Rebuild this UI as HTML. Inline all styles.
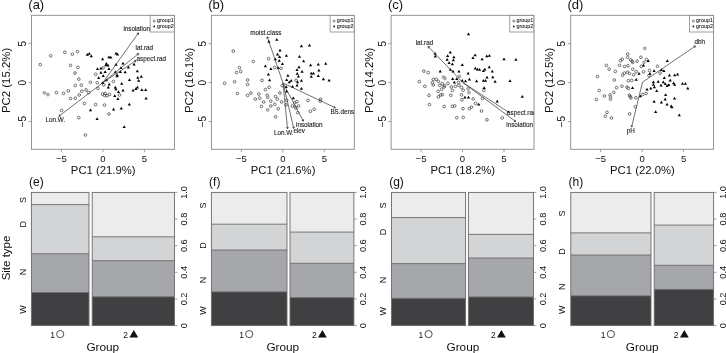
<!DOCTYPE html>
<html><head><meta charset="utf-8"><style>
html,body{margin:0;padding:0;background:#fff;}
svg{display:block;font-family:"Liberation Sans", sans-serif;will-change:transform;}
</style></head><body>
<svg width="726" height="353" viewBox="0 0 726 353">
<defs><clipPath id="cp0"><rect x="31.50" y="15.3" width="142.90" height="134.00"/></clipPath><clipPath id="cp1"><rect x="211.40" y="15.3" width="142.90" height="134.00"/></clipPath><clipPath id="cp2"><rect x="391.10" y="15.3" width="142.90" height="134.00"/></clipPath><clipPath id="cp3"><rect x="570.70" y="15.3" width="142.90" height="134.00"/></clipPath></defs>
<rect width="726" height="353" fill="#fff"/>
<rect x="31.50" y="15.3" width="142.90" height="134.00" fill="none" stroke="#888888" stroke-width="0.9"/>
<line x1="61.40" y1="149.3" x2="61.40" y2="152.20" stroke="#888888" stroke-width="0.8"/>
<text x="61.40" y="161.70" font-size="9.5" text-anchor="middle" fill="#111">&#8722;5</text>
<line x1="102.90" y1="149.3" x2="102.90" y2="152.20" stroke="#888888" stroke-width="0.8"/>
<text x="102.90" y="161.70" font-size="9.5" text-anchor="middle" fill="#111">0</text>
<line x1="144.40" y1="149.3" x2="144.40" y2="152.20" stroke="#888888" stroke-width="0.8"/>
<text x="144.40" y="161.70" font-size="9.5" text-anchor="middle" fill="#111">5</text>
<line x1="28.60" y1="121.60" x2="31.50" y2="121.60" stroke="#888888" stroke-width="0.8"/>
<text x="26.00" y="121.60" font-size="10" text-anchor="middle" fill="#111" transform="rotate(-90 26.00 121.60)">&#8722;5</text>
<line x1="28.60" y1="82.60" x2="31.50" y2="82.60" stroke="#888888" stroke-width="0.8"/>
<text x="26.00" y="82.60" font-size="10" text-anchor="middle" fill="#111" transform="rotate(-90 26.00 82.60)">0</text>
<line x1="28.60" y1="43.60" x2="31.50" y2="43.60" stroke="#888888" stroke-width="0.8"/>
<text x="26.00" y="43.60" font-size="10" text-anchor="middle" fill="#111" transform="rotate(-90 26.00 43.60)">5</text>
<text x="103.20" y="173.80" font-size="11.3" text-anchor="middle" fill="#111">PC1 (21.9%)</text>
<text x="10.20" y="80.40" font-size="11.4" text-anchor="middle" fill="#111" transform="rotate(-90 10.20 80.40)">PC2 (15.2%)</text>
<text x="28.30" y="9.30" font-size="13" text-anchor="start" fill="#111">(a)</text>
<rect x="211.40" y="15.3" width="142.90" height="134.00" fill="none" stroke="#888888" stroke-width="0.9"/>
<line x1="241.30" y1="149.3" x2="241.30" y2="152.20" stroke="#888888" stroke-width="0.8"/>
<text x="241.30" y="161.70" font-size="9.5" text-anchor="middle" fill="#111">&#8722;5</text>
<line x1="282.80" y1="149.3" x2="282.80" y2="152.20" stroke="#888888" stroke-width="0.8"/>
<text x="282.80" y="161.70" font-size="9.5" text-anchor="middle" fill="#111">0</text>
<line x1="324.30" y1="149.3" x2="324.30" y2="152.20" stroke="#888888" stroke-width="0.8"/>
<text x="324.30" y="161.70" font-size="9.5" text-anchor="middle" fill="#111">5</text>
<line x1="208.50" y1="121.60" x2="211.40" y2="121.60" stroke="#888888" stroke-width="0.8"/>
<text x="205.90" y="121.60" font-size="10" text-anchor="middle" fill="#111" transform="rotate(-90 205.90 121.60)">&#8722;5</text>
<line x1="208.50" y1="82.60" x2="211.40" y2="82.60" stroke="#888888" stroke-width="0.8"/>
<text x="205.90" y="82.60" font-size="10" text-anchor="middle" fill="#111" transform="rotate(-90 205.90 82.60)">0</text>
<line x1="208.50" y1="43.60" x2="211.40" y2="43.60" stroke="#888888" stroke-width="0.8"/>
<text x="205.90" y="43.60" font-size="10" text-anchor="middle" fill="#111" transform="rotate(-90 205.90 43.60)">5</text>
<text x="283.10" y="173.80" font-size="11.3" text-anchor="middle" fill="#111">PC1 (21.6%)</text>
<text x="193.30" y="80.40" font-size="11.4" text-anchor="middle" fill="#111" transform="rotate(-90 193.30 80.40)">PC2 (16.1%)</text>
<text x="208.20" y="9.30" font-size="13" text-anchor="start" fill="#111">(b)</text>
<rect x="391.10" y="15.3" width="142.90" height="134.00" fill="none" stroke="#888888" stroke-width="0.9"/>
<line x1="421.00" y1="149.3" x2="421.00" y2="152.20" stroke="#888888" stroke-width="0.8"/>
<text x="421.00" y="161.70" font-size="9.5" text-anchor="middle" fill="#111">&#8722;5</text>
<line x1="462.50" y1="149.3" x2="462.50" y2="152.20" stroke="#888888" stroke-width="0.8"/>
<text x="462.50" y="161.70" font-size="9.5" text-anchor="middle" fill="#111">0</text>
<line x1="504.00" y1="149.3" x2="504.00" y2="152.20" stroke="#888888" stroke-width="0.8"/>
<text x="504.00" y="161.70" font-size="9.5" text-anchor="middle" fill="#111">5</text>
<line x1="388.20" y1="121.60" x2="391.10" y2="121.60" stroke="#888888" stroke-width="0.8"/>
<text x="385.60" y="121.60" font-size="10" text-anchor="middle" fill="#111" transform="rotate(-90 385.60 121.60)">&#8722;5</text>
<line x1="388.20" y1="82.60" x2="391.10" y2="82.60" stroke="#888888" stroke-width="0.8"/>
<text x="385.60" y="82.60" font-size="10" text-anchor="middle" fill="#111" transform="rotate(-90 385.60 82.60)">0</text>
<line x1="388.20" y1="43.60" x2="391.10" y2="43.60" stroke="#888888" stroke-width="0.8"/>
<text x="385.60" y="43.60" font-size="10" text-anchor="middle" fill="#111" transform="rotate(-90 385.60 43.60)">5</text>
<text x="462.80" y="173.80" font-size="11.3" text-anchor="middle" fill="#111">PC1 (18.2%)</text>
<text x="373.00" y="80.40" font-size="11.4" text-anchor="middle" fill="#111" transform="rotate(-90 373.00 80.40)">PC2 (14.2%)</text>
<text x="387.90" y="9.30" font-size="13" text-anchor="start" fill="#111">(c)</text>
<rect x="570.70" y="15.3" width="142.90" height="134.00" fill="none" stroke="#888888" stroke-width="0.9"/>
<line x1="600.60" y1="149.3" x2="600.60" y2="152.20" stroke="#888888" stroke-width="0.8"/>
<text x="600.60" y="161.70" font-size="9.5" text-anchor="middle" fill="#111">&#8722;5</text>
<line x1="642.10" y1="149.3" x2="642.10" y2="152.20" stroke="#888888" stroke-width="0.8"/>
<text x="642.10" y="161.70" font-size="9.5" text-anchor="middle" fill="#111">0</text>
<line x1="683.60" y1="149.3" x2="683.60" y2="152.20" stroke="#888888" stroke-width="0.8"/>
<text x="683.60" y="161.70" font-size="9.5" text-anchor="middle" fill="#111">5</text>
<line x1="567.80" y1="121.60" x2="570.70" y2="121.60" stroke="#888888" stroke-width="0.8"/>
<text x="565.20" y="121.60" font-size="10" text-anchor="middle" fill="#111" transform="rotate(-90 565.20 121.60)">&#8722;5</text>
<line x1="567.80" y1="82.60" x2="570.70" y2="82.60" stroke="#888888" stroke-width="0.8"/>
<text x="565.20" y="82.60" font-size="10" text-anchor="middle" fill="#111" transform="rotate(-90 565.20 82.60)">0</text>
<line x1="567.80" y1="43.60" x2="570.70" y2="43.60" stroke="#888888" stroke-width="0.8"/>
<text x="565.20" y="43.60" font-size="10" text-anchor="middle" fill="#111" transform="rotate(-90 565.20 43.60)">5</text>
<text x="642.40" y="173.80" font-size="11.3" text-anchor="middle" fill="#111">PC1 (22.0%)</text>
<text x="552.60" y="80.40" font-size="11.4" text-anchor="middle" fill="#111" transform="rotate(-90 552.60 80.40)">PC2 (12.5%)</text>
<text x="567.50" y="9.30" font-size="13" text-anchor="start" fill="#111">(d)</text>
<g clip-path="url(#cp0)">
<rect x="150.20" y="15.3" width="24.20" height="16.70" fill="none" stroke="#888888" stroke-width="0.8"/>
<circle cx="154.20" cy="21.1" r="1.05" fill="none" stroke="#444" stroke-width="0.65"/>
<path d="M154.20 24.9 L155.40 27.2 L153.00 27.2 Z" fill="#111"/>
<text transform="translate(156.90 22.3) scale(1 1.12)" font-size="5.4" fill="#1a1a1a" stroke="#1a1a1a" stroke-width="0.08">group1</text>
<text transform="translate(156.90 27.9) scale(1 1.12)" font-size="5.4" fill="#1a1a1a" stroke="#1a1a1a" stroke-width="0.08">group2</text>
<circle cx="50.7" cy="55.8" r="1.35" fill="none" stroke="#444" stroke-width="0.75"/>
<circle cx="64.8" cy="52.3" r="1.35" fill="none" stroke="#444" stroke-width="0.75"/>
<circle cx="72.4" cy="54.2" r="1.35" fill="none" stroke="#444" stroke-width="0.75"/>
<circle cx="77.5" cy="51.6" r="1.35" fill="none" stroke="#444" stroke-width="0.75"/>
<circle cx="40.2" cy="64.6" r="1.35" fill="none" stroke="#444" stroke-width="0.75"/>
<circle cx="70.5" cy="65.4" r="1.35" fill="none" stroke="#444" stroke-width="0.75"/>
<circle cx="77.9" cy="67.4" r="1.35" fill="none" stroke="#444" stroke-width="0.75"/>
<circle cx="75.0" cy="73.1" r="1.35" fill="none" stroke="#444" stroke-width="0.75"/>
<circle cx="78.8" cy="79.1" r="1.35" fill="none" stroke="#444" stroke-width="0.75"/>
<circle cx="75.3" cy="85.5" r="1.35" fill="none" stroke="#444" stroke-width="0.75"/>
<circle cx="56.5" cy="92.6" r="1.35" fill="none" stroke="#444" stroke-width="0.75"/>
<circle cx="63.5" cy="93.4" r="1.35" fill="none" stroke="#444" stroke-width="0.75"/>
<circle cx="68.3" cy="90.8" r="1.35" fill="none" stroke="#444" stroke-width="0.75"/>
<circle cx="70.5" cy="98.6" r="1.35" fill="none" stroke="#444" stroke-width="0.75"/>
<circle cx="75.3" cy="98.2" r="1.35" fill="none" stroke="#444" stroke-width="0.75"/>
<circle cx="79.2" cy="95.0" r="1.35" fill="none" stroke="#444" stroke-width="0.75"/>
<circle cx="61.6" cy="110.5" r="1.35" fill="none" stroke="#444" stroke-width="0.75"/>
<circle cx="78.8" cy="117.7" r="1.35" fill="none" stroke="#444" stroke-width="0.75"/>
<circle cx="95.6" cy="74.3" r="1.35" fill="none" stroke="#444" stroke-width="0.75"/>
<circle cx="81.3" cy="85.2" r="1.35" fill="none" stroke="#444" stroke-width="0.75"/>
<circle cx="90.5" cy="82.3" r="1.35" fill="none" stroke="#444" stroke-width="0.75"/>
<circle cx="97.2" cy="82.7" r="1.35" fill="none" stroke="#444" stroke-width="0.75"/>
<circle cx="113.4" cy="81.4" r="1.35" fill="none" stroke="#444" stroke-width="0.75"/>
<circle cx="103.8" cy="84.8" r="1.35" fill="none" stroke="#444" stroke-width="0.75"/>
<circle cx="97.9" cy="88.3" r="1.35" fill="none" stroke="#444" stroke-width="0.75"/>
<circle cx="81.8" cy="91.2" r="1.35" fill="none" stroke="#444" stroke-width="0.75"/>
<circle cx="86.0" cy="89.9" r="1.35" fill="none" stroke="#444" stroke-width="0.75"/>
<circle cx="88.6" cy="92.5" r="1.35" fill="none" stroke="#444" stroke-width="0.75"/>
<circle cx="102.6" cy="94.1" r="1.35" fill="none" stroke="#444" stroke-width="0.75"/>
<circle cx="105.1" cy="93.4" r="1.35" fill="none" stroke="#444" stroke-width="0.75"/>
<circle cx="104.5" cy="95.4" r="1.35" fill="none" stroke="#444" stroke-width="0.75"/>
<circle cx="107.0" cy="95.7" r="1.35" fill="none" stroke="#444" stroke-width="0.75"/>
<circle cx="109.6" cy="94.4" r="1.35" fill="none" stroke="#444" stroke-width="0.75"/>
<circle cx="119.5" cy="95.0" r="1.35" fill="none" stroke="#444" stroke-width="0.75"/>
<circle cx="84.4" cy="103.4" r="1.35" fill="none" stroke="#444" stroke-width="0.75"/>
<circle cx="95.6" cy="104.6" r="1.35" fill="none" stroke="#444" stroke-width="0.75"/>
<circle cx="104.5" cy="105.1" r="1.35" fill="none" stroke="#444" stroke-width="0.75"/>
<circle cx="108.9" cy="114.0" r="1.35" fill="none" stroke="#444" stroke-width="0.75"/>
<circle cx="85.4" cy="135.0" r="1.35" fill="none" stroke="#444" stroke-width="0.75"/>
<circle cx="44.4" cy="92.9" r="1.45" fill="#bbb" stroke="#888" stroke-width="0.75"/>
<circle cx="47.9" cy="94.6" r="1.45" fill="#bbb" stroke="#888" stroke-width="0.75"/>
<circle cx="103.2" cy="67.9" r="1.45" fill="#bbb" stroke="#888" stroke-width="0.75"/>
<path d="M87.3 53.05L88.90 55.80L85.70 55.80Z" fill="#000"/>
<path d="M89.3 51.95L90.90 54.70L87.70 54.70Z" fill="#000"/>
<path d="M91.3 54.55L92.90 57.30L89.70 57.30Z" fill="#000"/>
<path d="M102.6 57.55L104.20 60.30L101.00 60.30Z" fill="#000"/>
<path d="M108.9 55.45L110.50 58.20L107.30 58.20Z" fill="#000"/>
<path d="M110.8 55.85L112.40 58.60L109.20 58.60Z" fill="#000"/>
<path d="M116.0 51.65L117.60 54.40L114.40 54.40Z" fill="#000"/>
<path d="M117.6 52.75L119.20 55.50L116.00 55.50Z" fill="#000"/>
<path d="M106.4 62.05L108.00 64.80L104.80 64.80Z" fill="#000"/>
<path d="M105.8 63.55L107.40 66.30L104.20 66.30Z" fill="#000"/>
<path d="M108.0 63.85L109.60 66.60L106.40 66.60Z" fill="#000"/>
<path d="M97.5 67.35L99.10 70.10L95.90 70.10Z" fill="#000"/>
<path d="M100.9 66.75L102.50 69.50L99.30 69.50Z" fill="#000"/>
<path d="M108.9 67.15L110.50 69.90L107.30 69.90Z" fill="#000"/>
<path d="M116.0 62.95L117.60 65.70L114.40 65.70Z" fill="#000"/>
<path d="M123.0 61.65L124.60 64.40L121.40 64.40Z" fill="#000"/>
<path d="M121.0 66.35L122.60 69.10L119.40 69.10Z" fill="#000"/>
<path d="M125.1 70.55L126.70 73.30L123.50 73.30Z" fill="#000"/>
<path d="M100.9 70.95L102.50 73.70L99.30 73.70Z" fill="#000"/>
<path d="M105.1 70.15L106.70 72.90L103.50 72.90Z" fill="#000"/>
<path d="M115.3 70.55L116.90 73.30L113.70 73.30Z" fill="#000"/>
<path d="M120.4 70.15L122.00 72.90L118.80 72.90Z" fill="#000"/>
<path d="M117.2 73.45L118.80 76.20L115.60 76.20Z" fill="#000"/>
<path d="M117.0 74.45L118.60 77.20L115.40 77.20Z" fill="#000"/>
<path d="M103.2 74.35L104.80 77.10L101.60 77.10Z" fill="#000"/>
<path d="M98.7 76.25L100.30 79.00L97.10 79.00Z" fill="#000"/>
<path d="M106.4 78.55L108.00 81.30L104.80 81.30Z" fill="#000"/>
<path d="M102.6 81.15L104.20 83.90L101.00 83.90Z" fill="#000"/>
<path d="M109.2 82.65L110.80 85.40L107.60 85.40Z" fill="#000"/>
<path d="M108.3 85.85L109.90 88.60L106.70 88.60Z" fill="#000"/>
<path d="M121.7 82.05L123.30 84.80L120.10 84.80Z" fill="#000"/>
<path d="M115.3 85.85L116.90 88.60L113.70 88.60Z" fill="#000"/>
<path d="M115.9 87.45L117.50 90.20L114.30 90.20Z" fill="#000"/>
<path d="M123.0 88.75L124.60 91.50L121.40 91.50Z" fill="#000"/>
<path d="M118.5 90.25L120.10 93.00L116.90 93.00Z" fill="#000"/>
<path d="M114.7 94.35L116.30 97.10L113.10 97.10Z" fill="#000"/>
<path d="M117.9 97.35L119.50 100.10L116.30 100.10Z" fill="#000"/>
<path d="M90.5 108.45L92.10 111.20L88.90 111.20Z" fill="#000"/>
<path d="M113.6 107.75L115.20 110.50L112.00 110.50Z" fill="#000"/>
<path d="M121.3 106.85L122.90 109.60L119.70 109.60Z" fill="#000"/>
<path d="M97.1 117.15L98.70 119.90L95.50 119.90Z" fill="#000"/>
<path d="M124.2 125.25L125.80 128.00L122.60 128.00Z" fill="#000"/>
<path d="M128.4 65.65L130.00 68.40L126.80 68.40Z" fill="#000"/>
<path d="M134.1 62.75L135.70 65.50L132.50 65.50Z" fill="#000"/>
<path d="M137.3 69.55L138.90 72.30L135.70 72.30Z" fill="#000"/>
<path d="M137.8 76.05L139.40 78.80L136.20 78.80Z" fill="#000"/>
<path d="M141.3 75.05L142.90 77.80L139.70 77.80Z" fill="#000"/>
<path d="M138.7 79.05L140.30 81.80L137.10 81.80Z" fill="#000"/>
<path d="M129.5 78.15L131.10 80.90L127.90 80.90Z" fill="#000"/>
<path d="M133.1 88.75L134.70 91.50L131.50 91.50Z" fill="#000"/>
<path d="M135.9 87.15L137.50 89.90L134.30 89.90Z" fill="#000"/>
<path d="M137.4 85.85L139.00 88.60L135.80 88.60Z" fill="#000"/>
<path d="M141.9 88.35L143.50 91.10L140.30 91.10Z" fill="#000"/>
<path d="M145.7 88.15L147.30 90.90L144.10 90.90Z" fill="#000"/>
<path d="M146.1 96.65L147.70 99.40L144.50 99.40Z" fill="#000"/>
<path d="M129.3 102.75L130.90 105.50L127.70 105.50Z" fill="#000"/>
<line x1="102.9" y1="82.6" x2="138.5" y2="32.9" stroke="#333" stroke-width="0.7"/>
<path d="M136.71 33.53L138.5 32.9L138.48 34.80" fill="none" stroke="#222" stroke-width="0.75"/>
<text x="123.40" y="30.50" font-size="6.3" text-anchor="start" fill="#1e1e1e" stroke="#1e1e1e" stroke-width="0.12">insolation</text>
<line x1="102.9" y1="82.6" x2="138.6" y2="53.6" stroke="#333" stroke-width="0.7"/>
<path d="M136.70 53.74L138.6 53.6L138.08 55.43" fill="none" stroke="#222" stroke-width="0.75"/>
<text x="135.60" y="50.40" font-size="6.3" text-anchor="start" fill="#1e1e1e" stroke="#1e1e1e" stroke-width="0.12">lat.rad</text>
<line x1="102.9" y1="82.6" x2="136.0" y2="60.6" stroke="#333" stroke-width="0.7"/>
<path d="M134.10 60.55L136.0 60.6L135.31 62.37" fill="none" stroke="#222" stroke-width="0.75"/>
<text x="136.60" y="60.60" font-size="6.3" text-anchor="start" fill="#1e1e1e" stroke="#1e1e1e" stroke-width="0.12">aspect.rad</text>
<line x1="102.9" y1="82.6" x2="59.0" y2="116.2" stroke="#333" stroke-width="0.7"/>
<path d="M60.90 116.12L59.0 116.2L59.57 114.39" fill="none" stroke="#222" stroke-width="0.75"/>
<text x="45.60" y="121.80" font-size="6.3" text-anchor="start" fill="#1e1e1e" stroke="#1e1e1e" stroke-width="0.12">Lon.W.</text>
</g>
<g clip-path="url(#cp1)">
<rect x="330.10" y="15.3" width="24.20" height="16.70" fill="none" stroke="#888888" stroke-width="0.8"/>
<circle cx="334.10" cy="21.1" r="1.05" fill="none" stroke="#444" stroke-width="0.65"/>
<path d="M334.10 24.9 L335.30 27.2 L332.90 27.2 Z" fill="#111"/>
<text transform="translate(336.80 22.3) scale(1 1.12)" font-size="5.4" fill="#1a1a1a" stroke="#1a1a1a" stroke-width="0.08">group1</text>
<text transform="translate(336.80 27.9) scale(1 1.12)" font-size="5.4" fill="#1a1a1a" stroke="#1a1a1a" stroke-width="0.08">group2</text>
<circle cx="233.3" cy="51.1" r="1.35" fill="none" stroke="#444" stroke-width="0.75"/>
<circle cx="268.6" cy="58.7" r="1.35" fill="none" stroke="#444" stroke-width="0.75"/>
<circle cx="253.3" cy="61.5" r="1.35" fill="none" stroke="#444" stroke-width="0.75"/>
<circle cx="239.4" cy="67.6" r="1.35" fill="none" stroke="#444" stroke-width="0.75"/>
<circle cx="236.5" cy="72.5" r="1.35" fill="none" stroke="#444" stroke-width="0.75"/>
<circle cx="240.7" cy="71.5" r="1.35" fill="none" stroke="#444" stroke-width="0.75"/>
<circle cx="224.6" cy="83.3" r="1.35" fill="none" stroke="#444" stroke-width="0.75"/>
<circle cx="234.6" cy="81.7" r="1.35" fill="none" stroke="#444" stroke-width="0.75"/>
<circle cx="247.6" cy="80.0" r="1.35" fill="none" stroke="#444" stroke-width="0.75"/>
<circle cx="247.6" cy="84.5" r="1.35" fill="none" stroke="#444" stroke-width="0.75"/>
<circle cx="237.4" cy="93.5" r="1.35" fill="none" stroke="#444" stroke-width="0.75"/>
<circle cx="247.6" cy="95.4" r="1.35" fill="none" stroke="#444" stroke-width="0.75"/>
<circle cx="250.9" cy="93.1" r="1.35" fill="none" stroke="#444" stroke-width="0.75"/>
<circle cx="255.3" cy="99.1" r="1.35" fill="none" stroke="#444" stroke-width="0.75"/>
<circle cx="258.8" cy="94.1" r="1.35" fill="none" stroke="#444" stroke-width="0.75"/>
<circle cx="259.8" cy="98.2" r="1.35" fill="none" stroke="#444" stroke-width="0.75"/>
<circle cx="274.7" cy="67.6" r="1.35" fill="none" stroke="#444" stroke-width="0.75"/>
<circle cx="281.1" cy="68.3" r="1.35" fill="none" stroke="#444" stroke-width="0.75"/>
<circle cx="262.0" cy="80.4" r="1.35" fill="none" stroke="#444" stroke-width="0.75"/>
<circle cx="296.1" cy="80.2" r="1.35" fill="none" stroke="#444" stroke-width="0.75"/>
<circle cx="282.2" cy="85.6" r="1.35" fill="none" stroke="#444" stroke-width="0.75"/>
<circle cx="269.1" cy="87.3" r="1.35" fill="none" stroke="#444" stroke-width="0.75"/>
<circle cx="265.4" cy="89.6" r="1.35" fill="none" stroke="#444" stroke-width="0.75"/>
<circle cx="267.3" cy="95.2" r="1.35" fill="none" stroke="#444" stroke-width="0.75"/>
<circle cx="275.4" cy="96.4" r="1.35" fill="none" stroke="#444" stroke-width="0.75"/>
<circle cx="277.3" cy="99.2" r="1.35" fill="none" stroke="#444" stroke-width="0.75"/>
<circle cx="270.8" cy="101.2" r="1.35" fill="none" stroke="#444" stroke-width="0.75"/>
<circle cx="281.6" cy="102.0" r="1.35" fill="none" stroke="#444" stroke-width="0.75"/>
<circle cx="274.8" cy="104.3" r="1.35" fill="none" stroke="#444" stroke-width="0.75"/>
<circle cx="270.8" cy="106.0" r="1.35" fill="none" stroke="#444" stroke-width="0.75"/>
<circle cx="278.2" cy="108.8" r="1.35" fill="none" stroke="#444" stroke-width="0.75"/>
<circle cx="286.7" cy="100.3" r="1.35" fill="none" stroke="#444" stroke-width="0.75"/>
<circle cx="286.1" cy="104.9" r="1.35" fill="none" stroke="#444" stroke-width="0.75"/>
<circle cx="296.9" cy="101.7" r="1.35" fill="none" stroke="#444" stroke-width="0.75"/>
<circle cx="294.6" cy="102.8" r="1.35" fill="none" stroke="#444" stroke-width="0.75"/>
<circle cx="292.4" cy="106.0" r="1.35" fill="none" stroke="#444" stroke-width="0.75"/>
<circle cx="295.2" cy="107.1" r="1.35" fill="none" stroke="#444" stroke-width="0.75"/>
<circle cx="298.6" cy="106.0" r="1.35" fill="none" stroke="#444" stroke-width="0.75"/>
<circle cx="263.7" cy="102.0" r="1.35" fill="none" stroke="#444" stroke-width="0.75"/>
<circle cx="261.4" cy="106.4" r="1.35" fill="none" stroke="#444" stroke-width="0.75"/>
<circle cx="275.6" cy="116.8" r="1.35" fill="none" stroke="#444" stroke-width="0.75"/>
<circle cx="297.7" cy="112.7" r="1.35" fill="none" stroke="#444" stroke-width="0.75"/>
<circle cx="308.0" cy="100.4" r="1.35" fill="none" stroke="#444" stroke-width="0.75"/>
<circle cx="320.6" cy="99.2" r="1.35" fill="none" stroke="#444" stroke-width="0.75"/>
<circle cx="320.3" cy="101.2" r="1.35" fill="none" stroke="#444" stroke-width="0.75"/>
<circle cx="310.4" cy="111.3" r="1.35" fill="none" stroke="#444" stroke-width="0.75"/>
<circle cx="314.2" cy="109.3" r="1.35" fill="none" stroke="#444" stroke-width="0.75"/>
<circle cx="279.9" cy="93.0" r="1.35" fill="none" stroke="#444" stroke-width="0.75"/>
<circle cx="267.9" cy="97.4" r="1.45" fill="#bbb" stroke="#888" stroke-width="0.75"/>
<circle cx="267.7" cy="109.9" r="1.45" fill="#bbb" stroke="#888" stroke-width="0.75"/>
<circle cx="295.8" cy="108.3" r="1.45" fill="#bbb" stroke="#888" stroke-width="0.75"/>
<path d="M268.9 39.95L270.50 42.70L267.30 42.70Z" fill="#000"/>
<path d="M276.8 38.05L278.40 40.80L275.20 40.80Z" fill="#000"/>
<path d="M301.4 44.45L303.00 47.20L299.80 47.20Z" fill="#000"/>
<path d="M280.0 48.85L281.60 51.60L278.40 51.60Z" fill="#000"/>
<path d="M277.5 52.65L279.10 55.40L275.90 55.40Z" fill="#000"/>
<path d="M279.6 55.25L281.20 58.00L278.00 58.00Z" fill="#000"/>
<path d="M286.4 53.95L288.00 56.70L284.80 56.70Z" fill="#000"/>
<path d="M299.5 54.95L301.10 57.70L297.90 57.70Z" fill="#000"/>
<path d="M275.3 57.45L276.90 60.20L273.70 60.20Z" fill="#000"/>
<path d="M309.5 43.65L311.10 46.40L307.90 46.40Z" fill="#000"/>
<path d="M279.2 59.05L280.80 61.80L277.60 61.80Z" fill="#000"/>
<path d="M282.4 62.25L284.00 65.00L280.80 65.00Z" fill="#000"/>
<path d="M265.4 64.55L267.00 67.30L263.80 67.30Z" fill="#000"/>
<path d="M270.9 67.35L272.50 70.10L269.30 70.10Z" fill="#000"/>
<path d="M278.2 66.35L279.80 69.10L276.60 69.10Z" fill="#000"/>
<path d="M268.4 72.75L270.00 75.50L266.80 75.50Z" fill="#000"/>
<path d="M269.6 78.45L271.20 81.20L268.00 81.20Z" fill="#000"/>
<path d="M287.9 73.95L289.50 76.70L286.30 76.70Z" fill="#000"/>
<path d="M299.0 65.45L300.60 68.20L297.40 68.20Z" fill="#000"/>
<path d="M297.0 68.35L298.60 71.10L295.40 71.10Z" fill="#000"/>
<path d="M302.1 69.95L303.70 72.70L300.50 72.70Z" fill="#000"/>
<path d="M297.2 71.95L298.80 74.70L295.60 74.70Z" fill="#000"/>
<path d="M298.4 74.85L300.00 77.60L296.80 77.60Z" fill="#000"/>
<path d="M286.7 78.15L288.30 80.90L285.10 80.90Z" fill="#000"/>
<path d="M291.2 78.95L292.80 81.70L289.60 81.70Z" fill="#000"/>
<path d="M289.3 80.45L290.90 83.20L287.70 83.20Z" fill="#000"/>
<path d="M297.6 80.55L299.20 83.30L296.00 83.30Z" fill="#000"/>
<path d="M301.4 78.95L303.00 81.70L299.80 81.70Z" fill="#000"/>
<path d="M297.1 83.85L298.70 86.60L295.50 86.60Z" fill="#000"/>
<path d="M292.6 84.95L294.20 87.70L291.00 87.70Z" fill="#000"/>
<path d="M286.1 85.25L287.70 88.00L284.50 88.00Z" fill="#000"/>
<path d="M286.6 89.85L288.20 92.60L285.00 92.60Z" fill="#000"/>
<path d="M293.3 96.55L294.90 99.30L291.70 99.30Z" fill="#000"/>
<path d="M301.4 86.95L303.00 89.70L299.80 89.70Z" fill="#000"/>
<path d="M303.6 59.45L305.20 62.20L302.00 62.20Z" fill="#000"/>
<path d="M310.6 63.55L312.20 66.30L309.00 66.30Z" fill="#000"/>
<path d="M318.3 62.65L319.90 65.40L316.70 65.40Z" fill="#000"/>
<path d="M325.7 62.05L327.30 64.80L324.10 64.80Z" fill="#000"/>
<path d="M311.3 71.85L312.90 74.60L309.70 74.60Z" fill="#000"/>
<path d="M313.4 71.85L315.00 74.60L311.80 74.60Z" fill="#000"/>
<path d="M318.9 68.85L320.50 71.60L317.30 71.60Z" fill="#000"/>
<path d="M311.3 75.05L312.90 77.80L309.70 77.80Z" fill="#000"/>
<path d="M318.3 74.35L319.90 77.10L316.70 77.10Z" fill="#000"/>
<path d="M323.4 77.55L325.00 80.30L321.80 80.30Z" fill="#000"/>
<path d="M329.1 78.85L330.70 81.60L327.50 81.60Z" fill="#000"/>
<line x1="283.0" y1="83.0" x2="267.3" y2="36.9" stroke="#333" stroke-width="0.7"/>
<path d="M266.77 38.72L267.3 36.9L268.83 38.02" fill="none" stroke="#222" stroke-width="0.75"/>
<text x="250.30" y="34.70" font-size="6.3" text-anchor="start" fill="#1e1e1e" stroke="#1e1e1e" stroke-width="0.12">moist.class</text>
<line x1="283.0" y1="83.0" x2="335.3" y2="107.8" stroke="#333" stroke-width="0.7"/>
<path d="M334.36 106.15L335.3 107.8L333.43 108.12" fill="none" stroke="#222" stroke-width="0.75"/>
<text x="330.40" y="113.50" font-size="6.3" text-anchor="start" fill="#1e1e1e" stroke="#1e1e1e" stroke-width="0.12">BS.dens</text>
<line x1="283.0" y1="83.0" x2="303.4" y2="121.1" stroke="#333" stroke-width="0.7"/>
<path d="M303.63 119.21L303.4 121.1L301.70 120.24" fill="none" stroke="#222" stroke-width="0.75"/>
<text x="296.00" y="126.90" font-size="6.3" text-anchor="start" fill="#1e1e1e" stroke="#1e1e1e" stroke-width="0.12">insolation</text>
<line x1="283.0" y1="83.0" x2="293.8" y2="128.4" stroke="#333" stroke-width="0.7"/>
<path d="M294.50 126.63L293.8 128.4L292.38 127.14" fill="none" stroke="#222" stroke-width="0.75"/>
<text x="293.40" y="132.60" font-size="6.3" text-anchor="start" fill="#1e1e1e" stroke="#1e1e1e" stroke-width="0.12">elev</text>
<line x1="283.0" y1="83.0" x2="287.5" y2="128.7" stroke="#333" stroke-width="0.7"/>
<path d="M288.43 127.04L287.5 128.7L286.26 127.26" fill="none" stroke="#222" stroke-width="0.75"/>
<text x="274.00" y="135.00" font-size="6.3" text-anchor="start" fill="#1e1e1e" stroke="#1e1e1e" stroke-width="0.12">Lon.W.</text>
</g>
<g clip-path="url(#cp2)">
<rect x="509.80" y="15.3" width="24.20" height="16.70" fill="none" stroke="#888888" stroke-width="0.8"/>
<circle cx="513.80" cy="21.1" r="1.05" fill="none" stroke="#444" stroke-width="0.65"/>
<path d="M513.80 24.9 L515.00 27.2 L512.60 27.2 Z" fill="#111"/>
<text transform="translate(516.50 22.3) scale(1 1.12)" font-size="5.4" fill="#1a1a1a" stroke="#1a1a1a" stroke-width="0.08">group1</text>
<text transform="translate(516.50 27.9) scale(1 1.12)" font-size="5.4" fill="#1a1a1a" stroke="#1a1a1a" stroke-width="0.08">group2</text>
<circle cx="423.9" cy="71.1" r="1.35" fill="none" stroke="#444" stroke-width="0.75"/>
<circle cx="428.3" cy="72.6" r="1.35" fill="none" stroke="#444" stroke-width="0.75"/>
<circle cx="419.3" cy="81.6" r="1.35" fill="none" stroke="#444" stroke-width="0.75"/>
<circle cx="424.8" cy="86.3" r="1.35" fill="none" stroke="#444" stroke-width="0.75"/>
<circle cx="429.0" cy="95.3" r="1.35" fill="none" stroke="#444" stroke-width="0.75"/>
<circle cx="433.3" cy="79.4" r="1.35" fill="none" stroke="#444" stroke-width="0.75"/>
<circle cx="436.2" cy="79.4" r="1.35" fill="none" stroke="#444" stroke-width="0.75"/>
<circle cx="432.4" cy="82.8" r="1.35" fill="none" stroke="#444" stroke-width="0.75"/>
<circle cx="433.3" cy="85.0" r="1.35" fill="none" stroke="#444" stroke-width="0.75"/>
<circle cx="438.4" cy="81.4" r="1.35" fill="none" stroke="#444" stroke-width="0.75"/>
<circle cx="438.1" cy="91.4" r="1.35" fill="none" stroke="#444" stroke-width="0.75"/>
<circle cx="438.4" cy="96.9" r="1.35" fill="none" stroke="#444" stroke-width="0.75"/>
<circle cx="447.9" cy="83.4" r="1.35" fill="none" stroke="#444" stroke-width="0.75"/>
<circle cx="442.3" cy="83.6" r="1.35" fill="none" stroke="#444" stroke-width="0.75"/>
<circle cx="458.5" cy="82.3" r="1.35" fill="none" stroke="#444" stroke-width="0.75"/>
<circle cx="439.8" cy="85.3" r="1.35" fill="none" stroke="#444" stroke-width="0.75"/>
<circle cx="444.0" cy="87.0" r="1.35" fill="none" stroke="#444" stroke-width="0.75"/>
<circle cx="444.5" cy="85.7" r="1.35" fill="none" stroke="#444" stroke-width="0.75"/>
<circle cx="441.5" cy="89.3" r="1.35" fill="none" stroke="#444" stroke-width="0.75"/>
<circle cx="440.6" cy="95.0" r="1.35" fill="none" stroke="#444" stroke-width="0.75"/>
<circle cx="442.3" cy="94.6" r="1.35" fill="none" stroke="#444" stroke-width="0.75"/>
<circle cx="451.3" cy="87.0" r="1.35" fill="none" stroke="#444" stroke-width="0.75"/>
<circle cx="455.3" cy="86.4" r="1.35" fill="none" stroke="#444" stroke-width="0.75"/>
<circle cx="452.4" cy="90.4" r="1.35" fill="none" stroke="#444" stroke-width="0.75"/>
<circle cx="450.8" cy="95.2" r="1.35" fill="none" stroke="#444" stroke-width="0.75"/>
<circle cx="458.9" cy="85.3" r="1.35" fill="none" stroke="#444" stroke-width="0.75"/>
<circle cx="461.5" cy="87.4" r="1.35" fill="none" stroke="#444" stroke-width="0.75"/>
<circle cx="461.5" cy="94.9" r="1.35" fill="none" stroke="#444" stroke-width="0.75"/>
<circle cx="461.9" cy="99.7" r="1.35" fill="none" stroke="#444" stroke-width="0.75"/>
<circle cx="444.2" cy="106.5" r="1.35" fill="none" stroke="#444" stroke-width="0.75"/>
<circle cx="452.4" cy="106.3" r="1.35" fill="none" stroke="#444" stroke-width="0.75"/>
<circle cx="454.7" cy="105.9" r="1.35" fill="none" stroke="#444" stroke-width="0.75"/>
<circle cx="463.0" cy="108.6" r="1.35" fill="none" stroke="#444" stroke-width="0.75"/>
<circle cx="463.2" cy="90.2" r="1.35" fill="none" stroke="#444" stroke-width="0.75"/>
<circle cx="473.2" cy="98.9" r="1.35" fill="none" stroke="#444" stroke-width="0.75"/>
<circle cx="482.4" cy="98.6" r="1.35" fill="none" stroke="#444" stroke-width="0.75"/>
<circle cx="475.6" cy="103.4" r="1.35" fill="none" stroke="#444" stroke-width="0.75"/>
<circle cx="469.4" cy="108.6" r="1.35" fill="none" stroke="#444" stroke-width="0.75"/>
<circle cx="471.5" cy="107.1" r="1.35" fill="none" stroke="#444" stroke-width="0.75"/>
<circle cx="481.5" cy="111.0" r="1.35" fill="none" stroke="#444" stroke-width="0.75"/>
<circle cx="483.8" cy="90.4" r="1.35" fill="none" stroke="#444" stroke-width="0.75"/>
<circle cx="502.3" cy="117.9" r="1.35" fill="none" stroke="#444" stroke-width="0.75"/>
<circle cx="487.0" cy="119.8" r="1.35" fill="none" stroke="#444" stroke-width="0.75"/>
<circle cx="429.5" cy="104.5" r="1.35" fill="none" stroke="#444" stroke-width="0.75"/>
<circle cx="456.8" cy="117.7" r="1.35" fill="none" stroke="#444" stroke-width="0.75"/>
<circle cx="463.2" cy="117.4" r="1.35" fill="none" stroke="#444" stroke-width="0.75"/>
<circle cx="443.6" cy="77.1" r="1.45" fill="#bbb" stroke="#888" stroke-width="0.75"/>
<circle cx="444.9" cy="78.5" r="1.45" fill="#bbb" stroke="#888" stroke-width="0.75"/>
<circle cx="459.3" cy="76.4" r="1.45" fill="#bbb" stroke="#888" stroke-width="0.75"/>
<circle cx="468.1" cy="88.7" r="1.45" fill="#bbb" stroke="#888" stroke-width="0.75"/>
<circle cx="469.0" cy="92.5" r="1.45" fill="#bbb" stroke="#888" stroke-width="0.75"/>
<path d="M435.1 51.95L436.70 54.70L433.50 54.70Z" fill="#000"/>
<path d="M435.3 54.75L436.90 57.50L433.70 57.50Z" fill="#000"/>
<path d="M468.5 32.55L470.10 35.30L466.90 35.30Z" fill="#000"/>
<path d="M450.3 50.65L451.90 53.40L448.70 53.40Z" fill="#000"/>
<path d="M447.7 54.25L449.30 57.00L446.10 57.00Z" fill="#000"/>
<path d="M453.9 55.45L455.50 58.20L452.30 58.20Z" fill="#000"/>
<path d="M447.1 57.95L448.70 60.70L445.50 60.70Z" fill="#000"/>
<path d="M475.1 53.55L476.70 56.30L473.50 56.30Z" fill="#000"/>
<path d="M473.0 56.15L474.60 58.90L471.40 58.90Z" fill="#000"/>
<path d="M482.1 57.45L483.70 60.20L480.50 60.20Z" fill="#000"/>
<path d="M486.8 54.45L488.40 57.20L485.20 57.20Z" fill="#000"/>
<path d="M489.4 53.95L491.00 56.70L487.80 56.70Z" fill="#000"/>
<path d="M504.0 57.45L505.60 60.20L502.40 60.20Z" fill="#000"/>
<path d="M515.9 58.05L517.50 60.80L514.30 60.80Z" fill="#000"/>
<path d="M453.4 58.55L455.00 61.30L451.80 61.30Z" fill="#000"/>
<path d="M449.1 61.25L450.70 64.00L447.50 64.00Z" fill="#000"/>
<path d="M452.4 62.55L454.00 65.30L450.80 65.30Z" fill="#000"/>
<path d="M462.3 63.35L463.90 66.10L460.70 66.10Z" fill="#000"/>
<path d="M440.2 69.75L441.80 72.50L438.60 72.50Z" fill="#000"/>
<path d="M450.4 68.05L452.00 70.80L448.80 70.80Z" fill="#000"/>
<path d="M453.0 69.75L454.60 72.50L451.40 72.50Z" fill="#000"/>
<path d="M458.9 69.75L460.50 72.50L457.30 72.50Z" fill="#000"/>
<path d="M452.7 77.35L454.30 80.10L451.10 80.10Z" fill="#000"/>
<path d="M456.8 77.25L458.40 80.00L455.20 80.00Z" fill="#000"/>
<path d="M454.4 80.75L456.00 83.50L452.80 83.50Z" fill="#000"/>
<path d="M462.3 79.05L463.90 81.80L460.70 81.80Z" fill="#000"/>
<path d="M475.3 66.75L476.90 69.50L473.70 69.50Z" fill="#000"/>
<path d="M477.4 67.65L479.00 70.40L475.80 70.40Z" fill="#000"/>
<path d="M479.6 68.05L481.20 70.80L478.00 70.80Z" fill="#000"/>
<path d="M483.4 69.35L485.00 72.10L481.80 72.10Z" fill="#000"/>
<path d="M484.9 67.85L486.50 70.60L483.30 70.60Z" fill="#000"/>
<path d="M489.2 65.45L490.80 68.20L487.60 68.20Z" fill="#000"/>
<path d="M492.3 69.85L493.90 72.60L490.70 72.60Z" fill="#000"/>
<path d="M468.1 71.85L469.70 74.60L466.50 74.60Z" fill="#000"/>
<path d="M469.4 77.85L471.00 80.60L467.80 80.60Z" fill="#000"/>
<path d="M465.5 79.55L467.10 82.30L463.90 82.30Z" fill="#000"/>
<path d="M476.6 79.55L478.20 82.30L475.00 82.30Z" fill="#000"/>
<path d="M483.4 79.05L485.00 81.80L481.80 81.80Z" fill="#000"/>
<path d="M485.5 79.05L487.10 81.80L483.90 81.80Z" fill="#000"/>
<path d="M487.0 75.65L488.60 78.40L485.40 78.40Z" fill="#000"/>
<path d="M492.8 75.45L494.40 78.20L491.20 78.20Z" fill="#000"/>
<path d="M495.1 79.95L496.70 82.70L493.50 82.70Z" fill="#000"/>
<path d="M510.0 79.35L511.60 82.10L508.40 82.10Z" fill="#000"/>
<path d="M522.3 95.05L523.90 97.80L520.70 97.80Z" fill="#000"/>
<path d="M497.2 99.85L498.80 102.60L495.60 102.60Z" fill="#000"/>
<path d="M464.9 95.65L466.50 98.40L463.30 98.40Z" fill="#000"/>
<path d="M468.5 95.65L470.10 98.40L466.90 98.40Z" fill="#000"/>
<path d="M484.1 86.25L485.70 89.00L482.50 89.00Z" fill="#000"/>
<path d="M478.7 102.85L480.30 105.60L477.10 105.60Z" fill="#000"/>
<line x1="462.9" y1="82.6" x2="428.1" y2="46.5" stroke="#333" stroke-width="0.7"/>
<path d="M428.40 48.38L428.1 46.5L429.96 46.86" fill="none" stroke="#222" stroke-width="0.75"/>
<text x="415.70" y="45.00" font-size="6.3" text-anchor="start" fill="#1e1e1e" stroke="#1e1e1e" stroke-width="0.12">lat.rad</text>
<line x1="462.9" y1="82.6" x2="508.7" y2="112.3" stroke="#333" stroke-width="0.7"/>
<path d="M507.99 110.54L508.7 112.3L506.80 112.37" fill="none" stroke="#222" stroke-width="0.75"/>
<text x="507.00" y="115.40" font-size="6.3" text-anchor="start" fill="#1e1e1e" stroke="#1e1e1e" stroke-width="0.12">aspect.rad</text>
<line x1="462.9" y1="82.6" x2="515.7" y2="121.5" stroke="#333" stroke-width="0.7"/>
<path d="M515.09 119.70L515.7 121.5L513.80 121.45" fill="none" stroke="#222" stroke-width="0.75"/>
<text x="506.30" y="126.60" font-size="6.3" text-anchor="start" fill="#1e1e1e" stroke="#1e1e1e" stroke-width="0.12">insolation</text>
</g>
<g clip-path="url(#cp3)">
<rect x="689.40" y="15.3" width="24.20" height="16.70" fill="none" stroke="#888888" stroke-width="0.8"/>
<circle cx="693.40" cy="21.1" r="1.05" fill="none" stroke="#444" stroke-width="0.65"/>
<path d="M693.40 24.9 L694.60 27.2 L692.20 27.2 Z" fill="#111"/>
<text transform="translate(696.10 22.3) scale(1 1.12)" font-size="5.4" fill="#1a1a1a" stroke="#1a1a1a" stroke-width="0.08">group1</text>
<text transform="translate(696.10 27.9) scale(1 1.12)" font-size="5.4" fill="#1a1a1a" stroke="#1a1a1a" stroke-width="0.08">group2</text>
<circle cx="606.4" cy="65.4" r="1.35" fill="none" stroke="#444" stroke-width="0.75"/>
<circle cx="609.2" cy="69.2" r="1.35" fill="none" stroke="#444" stroke-width="0.75"/>
<circle cx="615.3" cy="71.4" r="1.35" fill="none" stroke="#444" stroke-width="0.75"/>
<circle cx="597.5" cy="76.5" r="1.35" fill="none" stroke="#444" stroke-width="0.75"/>
<circle cx="614.3" cy="80.0" r="1.35" fill="none" stroke="#444" stroke-width="0.75"/>
<circle cx="619.6" cy="65.4" r="1.35" fill="none" stroke="#444" stroke-width="0.75"/>
<circle cx="627.7" cy="54.1" r="1.35" fill="none" stroke="#444" stroke-width="0.75"/>
<circle cx="627.7" cy="57.3" r="1.35" fill="none" stroke="#444" stroke-width="0.75"/>
<circle cx="620.5" cy="60.7" r="1.35" fill="none" stroke="#444" stroke-width="0.75"/>
<circle cx="622.2" cy="59.2" r="1.35" fill="none" stroke="#444" stroke-width="0.75"/>
<circle cx="630.7" cy="59.9" r="1.35" fill="none" stroke="#444" stroke-width="0.75"/>
<circle cx="632.0" cy="61.2" r="1.35" fill="none" stroke="#444" stroke-width="0.75"/>
<circle cx="632.8" cy="62.4" r="1.35" fill="none" stroke="#444" stroke-width="0.75"/>
<circle cx="637.1" cy="61.2" r="1.35" fill="none" stroke="#444" stroke-width="0.75"/>
<circle cx="640.9" cy="57.3" r="1.35" fill="none" stroke="#444" stroke-width="0.75"/>
<circle cx="624.6" cy="66.5" r="1.35" fill="none" stroke="#444" stroke-width="0.75"/>
<circle cx="628.0" cy="65.8" r="1.35" fill="none" stroke="#444" stroke-width="0.75"/>
<circle cx="632.8" cy="69.2" r="1.35" fill="none" stroke="#444" stroke-width="0.75"/>
<circle cx="624.3" cy="73.1" r="1.35" fill="none" stroke="#444" stroke-width="0.75"/>
<circle cx="622.6" cy="75.2" r="1.35" fill="none" stroke="#444" stroke-width="0.75"/>
<circle cx="627.3" cy="72.2" r="1.35" fill="none" stroke="#444" stroke-width="0.75"/>
<circle cx="629.4" cy="73.5" r="1.35" fill="none" stroke="#444" stroke-width="0.75"/>
<circle cx="633.7" cy="74.8" r="1.35" fill="none" stroke="#444" stroke-width="0.75"/>
<circle cx="636.2" cy="71.8" r="1.35" fill="none" stroke="#444" stroke-width="0.75"/>
<circle cx="641.3" cy="66.3" r="1.35" fill="none" stroke="#444" stroke-width="0.75"/>
<circle cx="646.5" cy="59.5" r="1.35" fill="none" stroke="#444" stroke-width="0.75"/>
<circle cx="643.5" cy="71.8" r="1.35" fill="none" stroke="#444" stroke-width="0.75"/>
<circle cx="649.5" cy="70.5" r="1.35" fill="none" stroke="#444" stroke-width="0.75"/>
<circle cx="657.5" cy="66.3" r="1.35" fill="none" stroke="#444" stroke-width="0.75"/>
<circle cx="649.0" cy="75.6" r="1.35" fill="none" stroke="#444" stroke-width="0.75"/>
<circle cx="660.1" cy="73.1" r="1.35" fill="none" stroke="#444" stroke-width="0.75"/>
<circle cx="628.3" cy="80.7" r="1.35" fill="none" stroke="#444" stroke-width="0.75"/>
<circle cx="631.7" cy="80.4" r="1.35" fill="none" stroke="#444" stroke-width="0.75"/>
<circle cx="621.9" cy="86.2" r="1.35" fill="none" stroke="#444" stroke-width="0.75"/>
<circle cx="635.9" cy="97.7" r="1.35" fill="none" stroke="#444" stroke-width="0.75"/>
<circle cx="642.7" cy="94.4" r="1.35" fill="none" stroke="#444" stroke-width="0.75"/>
<circle cx="646.1" cy="93.5" r="1.35" fill="none" stroke="#444" stroke-width="0.75"/>
<circle cx="635.3" cy="106.8" r="1.35" fill="none" stroke="#444" stroke-width="0.75"/>
<circle cx="629.6" cy="113.9" r="1.35" fill="none" stroke="#444" stroke-width="0.75"/>
<circle cx="599.2" cy="90.5" r="1.35" fill="none" stroke="#444" stroke-width="0.75"/>
<circle cx="616.6" cy="87.6" r="1.35" fill="none" stroke="#444" stroke-width="0.75"/>
<circle cx="613.8" cy="92.4" r="1.35" fill="none" stroke="#444" stroke-width="0.75"/>
<circle cx="604.4" cy="96.0" r="1.35" fill="none" stroke="#444" stroke-width="0.75"/>
<circle cx="596.4" cy="99.5" r="1.35" fill="none" stroke="#444" stroke-width="0.75"/>
<circle cx="607.0" cy="112.3" r="1.35" fill="none" stroke="#444" stroke-width="0.75"/>
<circle cx="605.3" cy="116.2" r="1.35" fill="none" stroke="#444" stroke-width="0.75"/>
<circle cx="611.5" cy="118.0" r="1.35" fill="none" stroke="#444" stroke-width="0.75"/>
<circle cx="627.0" cy="87.1" r="1.35" fill="none" stroke="#444" stroke-width="0.75"/>
<circle cx="628.3" cy="88.4" r="1.35" fill="none" stroke="#444" stroke-width="0.75"/>
<circle cx="629.4" cy="95.2" r="1.35" fill="none" stroke="#444" stroke-width="0.75"/>
<circle cx="630.2" cy="96.5" r="1.35" fill="none" stroke="#444" stroke-width="0.75"/>
<circle cx="630.9" cy="97.8" r="1.35" fill="none" stroke="#444" stroke-width="0.75"/>
<circle cx="644.8" cy="48.4" r="1.45" fill="#bbb" stroke="#888" stroke-width="0.75"/>
<circle cx="644.0" cy="62.4" r="1.45" fill="#bbb" stroke="#888" stroke-width="0.75"/>
<circle cx="610.1" cy="95.0" r="1.45" fill="#bbb" stroke="#888" stroke-width="0.75"/>
<circle cx="610.5" cy="97.1" r="1.45" fill="#bbb" stroke="#888" stroke-width="0.75"/>
<circle cx="610.5" cy="99.2" r="1.45" fill="#bbb" stroke="#888" stroke-width="0.75"/>
<path d="M639.0 71.95L640.60 74.70L637.40 74.70Z" fill="#000"/>
<path d="M648.2 59.15L649.80 61.90L646.60 61.90Z" fill="#000"/>
<path d="M643.5 63.85L645.10 66.60L641.90 66.60Z" fill="#000"/>
<path d="M649.9 71.95L651.50 74.70L648.30 74.70Z" fill="#000"/>
<path d="M654.1 69.35L655.70 72.10L652.50 72.10Z" fill="#000"/>
<path d="M661.4 68.35L663.00 71.10L659.80 71.10Z" fill="#000"/>
<path d="M663.9 69.35L665.50 72.10L662.30 72.10Z" fill="#000"/>
<path d="M667.3 59.15L668.90 61.90L665.70 61.90Z" fill="#000"/>
<path d="M664.3 76.25L665.90 79.00L662.70 79.00Z" fill="#000"/>
<path d="M636.2 77.95L637.80 80.70L634.60 80.70Z" fill="#000"/>
<path d="M632.5 86.15L634.10 88.90L630.90 88.90Z" fill="#000"/>
<path d="M640.4 94.45L642.00 97.20L638.80 97.20Z" fill="#000"/>
<path d="M653.4 80.45L655.00 83.20L651.80 83.20Z" fill="#000"/>
<path d="M658.2 80.05L659.80 82.80L656.60 82.80Z" fill="#000"/>
<path d="M663.3 80.45L664.90 83.20L661.70 83.20Z" fill="#000"/>
<path d="M665.2 82.15L666.80 84.90L663.60 84.90Z" fill="#000"/>
<path d="M667.1 84.25L668.70 87.00L665.50 87.00Z" fill="#000"/>
<path d="M653.4 83.05L655.00 85.80L651.80 85.80Z" fill="#000"/>
<path d="M654.4 85.55L656.00 88.30L652.80 88.30Z" fill="#000"/>
<path d="M661.0 83.65L662.60 86.40L659.40 86.40Z" fill="#000"/>
<path d="M647.0 87.75L648.60 90.50L645.40 90.50Z" fill="#000"/>
<path d="M650.8 86.85L652.40 89.60L649.20 89.60Z" fill="#000"/>
<path d="M656.7 89.35L658.30 92.10L655.10 92.10Z" fill="#000"/>
<path d="M665.6 93.15L667.20 95.90L664.00 95.90Z" fill="#000"/>
<path d="M665.2 97.65L666.80 100.40L663.60 100.40Z" fill="#000"/>
<path d="M654.1 99.95L655.70 102.70L652.50 102.70Z" fill="#000"/>
<path d="M661.4 100.85L663.00 103.60L659.80 103.60Z" fill="#000"/>
<path d="M667.1 102.75L668.70 105.50L665.50 105.50Z" fill="#000"/>
<path d="M655.7 110.15L657.30 112.90L654.10 112.90Z" fill="#000"/>
<path d="M669.4 73.85L671.00 76.60L667.80 76.60Z" fill="#000"/>
<path d="M674.7 73.45L676.30 76.20L673.10 76.20Z" fill="#000"/>
<path d="M677.6 72.65L679.20 75.40L676.00 75.40Z" fill="#000"/>
<path d="M670.2 78.65L671.80 81.40L668.60 81.40Z" fill="#000"/>
<path d="M668.8 83.35L670.40 86.10L667.20 86.10Z" fill="#000"/>
<path d="M673.6 81.45L675.20 84.20L672.00 84.20Z" fill="#000"/>
<path d="M674.7 83.05L676.30 85.80L673.10 85.80Z" fill="#000"/>
<path d="M682.5 81.95L684.10 84.70L680.90 84.70Z" fill="#000"/>
<path d="M685.4 81.95L687.00 84.70L683.80 84.70Z" fill="#000"/>
<path d="M687.8 86.85L689.40 89.60L686.20 89.60Z" fill="#000"/>
<path d="M674.5 96.75L676.10 99.50L672.90 99.50Z" fill="#000"/>
<path d="M671.2 104.55L672.80 107.30L669.60 107.30Z" fill="#000"/>
<path d="M671.9 105.55L673.50 108.30L670.30 108.30Z" fill="#000"/>
<path d="M679.3 113.45L680.90 116.20L677.70 116.20Z" fill="#000"/>
<line x1="642.5" y1="82.2" x2="695.4" y2="46.0" stroke="#333" stroke-width="0.7"/>
<path d="M693.50 45.98L695.4 46.0L694.73 47.78" fill="none" stroke="#222" stroke-width="0.75"/>
<text x="694.60" y="44.10" font-size="6.3" text-anchor="start" fill="#1e1e1e" stroke="#1e1e1e" stroke-width="0.12">dbh</text>
<line x1="642.5" y1="82.2" x2="631.6" y2="126.9" stroke="#333" stroke-width="0.7"/>
<path d="M633.03 125.65L631.6 126.9L630.91 125.13" fill="none" stroke="#222" stroke-width="0.75"/>
<text x="626.70" y="133.30" font-size="6.3" text-anchor="start" fill="#1e1e1e" stroke="#1e1e1e" stroke-width="0.12">pH</text>
</g>
<rect x="31.4" y="192.4" width="57.60" height="12.20" fill="#ececec"/>
<rect x="31.4" y="204.6" width="57.60" height="49.20" fill="#d3d4d6"/>
<rect x="31.4" y="253.8" width="57.60" height="38.70" fill="#a6a7aa"/>
<rect x="31.4" y="292.5" width="57.60" height="33.10" fill="#404043"/>
<rect x="31.4" y="192.4" width="57.60" height="133.20" fill="none" stroke="#6a6a6a" stroke-width="0.9"/>
<line x1="31.4" y1="204.6" x2="89.0" y2="204.6" stroke="#6a6a6a" stroke-width="0.9"/>
<line x1="31.4" y1="253.8" x2="89.0" y2="253.8" stroke="#6a6a6a" stroke-width="0.9"/>
<line x1="31.4" y1="292.5" x2="89.0" y2="292.5" stroke="#6a6a6a" stroke-width="0.9"/>
<rect x="92.2" y="192.4" width="82.30" height="44.40" fill="#ececec"/>
<rect x="92.2" y="236.8" width="82.30" height="23.90" fill="#d3d4d6"/>
<rect x="92.2" y="260.7" width="82.30" height="36.10" fill="#a6a7aa"/>
<rect x="92.2" y="296.8" width="82.30" height="28.80" fill="#404043"/>
<rect x="92.2" y="192.4" width="82.30" height="133.20" fill="none" stroke="#6a6a6a" stroke-width="0.9"/>
<line x1="92.2" y1="236.8" x2="174.5" y2="236.8" stroke="#6a6a6a" stroke-width="0.9"/>
<line x1="92.2" y1="260.7" x2="174.5" y2="260.7" stroke="#6a6a6a" stroke-width="0.9"/>
<line x1="92.2" y1="296.8" x2="174.5" y2="296.8" stroke="#6a6a6a" stroke-width="0.9"/>
<line x1="174.5" y1="325.60" x2="177.40" y2="325.60" stroke="#888888" stroke-width="0.8"/>
<text x="186.90" y="325.60" font-size="9.2" text-anchor="middle" fill="#111" transform="rotate(-90 186.90 325.60)">0</text>
<line x1="174.5" y1="298.96" x2="177.40" y2="298.96" stroke="#888888" stroke-width="0.8"/>
<text x="186.90" y="298.96" font-size="9.2" text-anchor="middle" fill="#111" transform="rotate(-90 186.90 298.96)">0.2</text>
<line x1="174.5" y1="272.32" x2="177.40" y2="272.32" stroke="#888888" stroke-width="0.8"/>
<text x="186.90" y="272.32" font-size="9.2" text-anchor="middle" fill="#111" transform="rotate(-90 186.90 272.32)">0.4</text>
<line x1="174.5" y1="245.68" x2="177.40" y2="245.68" stroke="#888888" stroke-width="0.8"/>
<text x="186.90" y="245.68" font-size="9.2" text-anchor="middle" fill="#111" transform="rotate(-90 186.90 245.68)">0.6</text>
<line x1="174.5" y1="219.04" x2="177.40" y2="219.04" stroke="#888888" stroke-width="0.8"/>
<text x="186.90" y="219.04" font-size="9.2" text-anchor="middle" fill="#111" transform="rotate(-90 186.90 219.04)">0.8</text>
<line x1="174.5" y1="192.40" x2="177.40" y2="192.40" stroke="#888888" stroke-width="0.8"/>
<text x="186.90" y="192.40" font-size="9.2" text-anchor="middle" fill="#111" transform="rotate(-90 186.90 192.40)">1.0</text>
<text x="26.00" y="199.90" font-size="9" text-anchor="middle" fill="#111" transform="rotate(-90 26.00 199.90)">S</text>
<text x="26.00" y="224.30" font-size="9" text-anchor="middle" fill="#111" transform="rotate(-90 26.00 224.30)">D</text>
<text x="26.00" y="272.00" font-size="9" text-anchor="middle" fill="#111" transform="rotate(-90 26.00 272.00)">N</text>
<text x="26.00" y="309.50" font-size="9" text-anchor="middle" fill="#111" transform="rotate(-90 26.00 309.50)">W</text>
<text x="52.50" y="337.50" font-size="8.5" text-anchor="middle" fill="#111">1</text>
<circle cx="60.20" cy="334.1" r="3.6" fill="none" stroke="#222" stroke-width="0.8"/>
<text x="125.65" y="337.50" font-size="8.5" text-anchor="middle" fill="#111">2</text>
<path d="M133.80 329.9 L138.20 337.5 L129.40 337.5 Z" fill="#111"/>
<text x="102.80" y="350.60" font-size="11.8" text-anchor="middle" fill="#111">Group</text>
<text x="9.80" y="258.00" font-size="11.5" text-anchor="middle" fill="#111" transform="rotate(-90 9.80 258.00)">Site type</text>
<text x="29.10" y="185.80" font-size="12" text-anchor="start" fill="#111">(e)</text>
<rect x="211.4" y="192.4" width="75.60" height="31.80" fill="#ececec"/>
<rect x="211.4" y="224.2" width="75.60" height="25.80" fill="#d3d4d6"/>
<rect x="211.4" y="250.0" width="75.60" height="41.90" fill="#a6a7aa"/>
<rect x="211.4" y="291.9" width="75.60" height="33.70" fill="#404043"/>
<rect x="211.4" y="192.4" width="75.60" height="133.20" fill="none" stroke="#6a6a6a" stroke-width="0.9"/>
<line x1="211.4" y1="224.2" x2="287.0" y2="224.2" stroke="#6a6a6a" stroke-width="0.9"/>
<line x1="211.4" y1="250.0" x2="287.0" y2="250.0" stroke="#6a6a6a" stroke-width="0.9"/>
<line x1="211.4" y1="291.9" x2="287.0" y2="291.9" stroke="#6a6a6a" stroke-width="0.9"/>
<rect x="290.0" y="192.4" width="63.90" height="39.70" fill="#ececec"/>
<rect x="290.0" y="232.1" width="63.90" height="31.20" fill="#d3d4d6"/>
<rect x="290.0" y="263.3" width="63.90" height="34.30" fill="#a6a7aa"/>
<rect x="290.0" y="297.6" width="63.90" height="28.00" fill="#404043"/>
<rect x="290.0" y="192.4" width="63.90" height="133.20" fill="none" stroke="#6a6a6a" stroke-width="0.9"/>
<line x1="290.0" y1="232.1" x2="353.9" y2="232.1" stroke="#6a6a6a" stroke-width="0.9"/>
<line x1="290.0" y1="263.3" x2="353.9" y2="263.3" stroke="#6a6a6a" stroke-width="0.9"/>
<line x1="290.0" y1="297.6" x2="353.9" y2="297.6" stroke="#6a6a6a" stroke-width="0.9"/>
<line x1="353.9" y1="325.60" x2="356.80" y2="325.60" stroke="#888888" stroke-width="0.8"/>
<text x="366.30" y="325.60" font-size="9.2" text-anchor="middle" fill="#111" transform="rotate(-90 366.30 325.60)">0</text>
<line x1="353.9" y1="298.96" x2="356.80" y2="298.96" stroke="#888888" stroke-width="0.8"/>
<text x="366.30" y="298.96" font-size="9.2" text-anchor="middle" fill="#111" transform="rotate(-90 366.30 298.96)">0.2</text>
<line x1="353.9" y1="272.32" x2="356.80" y2="272.32" stroke="#888888" stroke-width="0.8"/>
<text x="366.30" y="272.32" font-size="9.2" text-anchor="middle" fill="#111" transform="rotate(-90 366.30 272.32)">0.4</text>
<line x1="353.9" y1="245.68" x2="356.80" y2="245.68" stroke="#888888" stroke-width="0.8"/>
<text x="366.30" y="245.68" font-size="9.2" text-anchor="middle" fill="#111" transform="rotate(-90 366.30 245.68)">0.6</text>
<line x1="353.9" y1="219.04" x2="356.80" y2="219.04" stroke="#888888" stroke-width="0.8"/>
<text x="366.30" y="219.04" font-size="9.2" text-anchor="middle" fill="#111" transform="rotate(-90 366.30 219.04)">0.8</text>
<line x1="353.9" y1="192.40" x2="356.80" y2="192.40" stroke="#888888" stroke-width="0.8"/>
<text x="366.30" y="192.40" font-size="9.2" text-anchor="middle" fill="#111" transform="rotate(-90 366.30 192.40)">1.0</text>
<text x="206.00" y="205.50" font-size="9" text-anchor="middle" fill="#111" transform="rotate(-90 206.00 205.50)">S</text>
<text x="206.00" y="245.60" font-size="9" text-anchor="middle" fill="#111" transform="rotate(-90 206.00 245.60)">D</text>
<text x="206.00" y="280.10" font-size="9" text-anchor="middle" fill="#111" transform="rotate(-90 206.00 280.10)">N</text>
<text x="206.00" y="310.60" font-size="9" text-anchor="middle" fill="#111" transform="rotate(-90 206.00 310.60)">W</text>
<text x="241.50" y="337.50" font-size="8.5" text-anchor="middle" fill="#111">1</text>
<circle cx="249.20" cy="334.1" r="3.6" fill="none" stroke="#222" stroke-width="0.8"/>
<text x="314.25" y="337.50" font-size="8.5" text-anchor="middle" fill="#111">2</text>
<path d="M322.40 329.9 L326.80 337.5 L318.00 337.5 Z" fill="#111"/>
<text x="282.80" y="350.60" font-size="11.8" text-anchor="middle" fill="#111">Group</text>
<text x="209.10" y="185.80" font-size="12" text-anchor="start" fill="#111">(f)</text>
<rect x="391.5" y="192.4" width="74.10" height="25.20" fill="#ececec"/>
<rect x="391.5" y="217.6" width="74.10" height="46.00" fill="#d3d4d6"/>
<rect x="391.5" y="263.6" width="74.10" height="34.70" fill="#a6a7aa"/>
<rect x="391.5" y="298.3" width="74.10" height="27.30" fill="#404043"/>
<rect x="391.5" y="192.4" width="74.10" height="133.20" fill="none" stroke="#6a6a6a" stroke-width="0.9"/>
<line x1="391.5" y1="217.6" x2="465.6" y2="217.6" stroke="#6a6a6a" stroke-width="0.9"/>
<line x1="391.5" y1="263.6" x2="465.6" y2="263.6" stroke="#6a6a6a" stroke-width="0.9"/>
<line x1="391.5" y1="298.3" x2="465.6" y2="298.3" stroke="#6a6a6a" stroke-width="0.9"/>
<rect x="468.4" y="192.4" width="65.10" height="42.00" fill="#ececec"/>
<rect x="468.4" y="234.4" width="65.10" height="23.60" fill="#d3d4d6"/>
<rect x="468.4" y="258.0" width="65.10" height="39.00" fill="#a6a7aa"/>
<rect x="468.4" y="297.0" width="65.10" height="28.60" fill="#404043"/>
<rect x="468.4" y="192.4" width="65.10" height="133.20" fill="none" stroke="#6a6a6a" stroke-width="0.9"/>
<line x1="468.4" y1="234.4" x2="533.5" y2="234.4" stroke="#6a6a6a" stroke-width="0.9"/>
<line x1="468.4" y1="258.0" x2="533.5" y2="258.0" stroke="#6a6a6a" stroke-width="0.9"/>
<line x1="468.4" y1="297.0" x2="533.5" y2="297.0" stroke="#6a6a6a" stroke-width="0.9"/>
<line x1="533.5" y1="325.60" x2="536.40" y2="325.60" stroke="#888888" stroke-width="0.8"/>
<text x="545.90" y="325.60" font-size="9.2" text-anchor="middle" fill="#111" transform="rotate(-90 545.90 325.60)">0</text>
<line x1="533.5" y1="298.96" x2="536.40" y2="298.96" stroke="#888888" stroke-width="0.8"/>
<text x="545.90" y="298.96" font-size="9.2" text-anchor="middle" fill="#111" transform="rotate(-90 545.90 298.96)">0.2</text>
<line x1="533.5" y1="272.32" x2="536.40" y2="272.32" stroke="#888888" stroke-width="0.8"/>
<text x="545.90" y="272.32" font-size="9.2" text-anchor="middle" fill="#111" transform="rotate(-90 545.90 272.32)">0.4</text>
<line x1="533.5" y1="245.68" x2="536.40" y2="245.68" stroke="#888888" stroke-width="0.8"/>
<text x="545.90" y="245.68" font-size="9.2" text-anchor="middle" fill="#111" transform="rotate(-90 545.90 245.68)">0.6</text>
<line x1="533.5" y1="219.04" x2="536.40" y2="219.04" stroke="#888888" stroke-width="0.8"/>
<text x="545.90" y="219.04" font-size="9.2" text-anchor="middle" fill="#111" transform="rotate(-90 545.90 219.04)">0.8</text>
<line x1="533.5" y1="192.40" x2="536.40" y2="192.40" stroke="#888888" stroke-width="0.8"/>
<text x="545.90" y="192.40" font-size="9.2" text-anchor="middle" fill="#111" transform="rotate(-90 545.90 192.40)">1.0</text>
<text x="386.10" y="205.50" font-size="9" text-anchor="middle" fill="#111" transform="rotate(-90 386.10 205.50)">S</text>
<text x="386.10" y="232.10" font-size="9" text-anchor="middle" fill="#111" transform="rotate(-90 386.10 232.10)">D</text>
<text x="386.10" y="280.10" font-size="9" text-anchor="middle" fill="#111" transform="rotate(-90 386.10 280.10)">N</text>
<text x="386.10" y="311.30" font-size="9" text-anchor="middle" fill="#111" transform="rotate(-90 386.10 311.30)">W</text>
<text x="420.85" y="337.50" font-size="8.5" text-anchor="middle" fill="#111">1</text>
<circle cx="428.55" cy="334.1" r="3.6" fill="none" stroke="#222" stroke-width="0.8"/>
<text x="493.25" y="337.50" font-size="8.5" text-anchor="middle" fill="#111">2</text>
<path d="M501.40 329.9 L505.80 337.5 L497.00 337.5 Z" fill="#111"/>
<text x="462.90" y="350.60" font-size="11.8" text-anchor="middle" fill="#111">Group</text>
<text x="389.20" y="185.80" font-size="12" text-anchor="start" fill="#111">(g)</text>
<rect x="570.8" y="192.4" width="80.20" height="40.50" fill="#ececec"/>
<rect x="570.8" y="232.9" width="80.20" height="22.10" fill="#d3d4d6"/>
<rect x="570.8" y="255.0" width="80.20" height="40.90" fill="#a6a7aa"/>
<rect x="570.8" y="295.9" width="80.20" height="29.70" fill="#404043"/>
<rect x="570.8" y="192.4" width="80.20" height="133.20" fill="none" stroke="#6a6a6a" stroke-width="0.9"/>
<line x1="570.8" y1="232.9" x2="651.0" y2="232.9" stroke="#6a6a6a" stroke-width="0.9"/>
<line x1="570.8" y1="255.0" x2="651.0" y2="255.0" stroke="#6a6a6a" stroke-width="0.9"/>
<line x1="570.8" y1="295.9" x2="651.0" y2="295.9" stroke="#6a6a6a" stroke-width="0.9"/>
<rect x="654.2" y="192.4" width="59.40" height="32.70" fill="#ececec"/>
<rect x="654.2" y="225.1" width="59.40" height="40.20" fill="#d3d4d6"/>
<rect x="654.2" y="265.3" width="59.40" height="24.10" fill="#a6a7aa"/>
<rect x="654.2" y="289.4" width="59.40" height="36.20" fill="#404043"/>
<rect x="654.2" y="192.4" width="59.40" height="133.20" fill="none" stroke="#6a6a6a" stroke-width="0.9"/>
<line x1="654.2" y1="225.1" x2="713.6" y2="225.1" stroke="#6a6a6a" stroke-width="0.9"/>
<line x1="654.2" y1="265.3" x2="713.6" y2="265.3" stroke="#6a6a6a" stroke-width="0.9"/>
<line x1="654.2" y1="289.4" x2="713.6" y2="289.4" stroke="#6a6a6a" stroke-width="0.9"/>
<line x1="713.6" y1="325.60" x2="716.50" y2="325.60" stroke="#888888" stroke-width="0.8"/>
<text x="726.00" y="325.60" font-size="9.2" text-anchor="middle" fill="#111" transform="rotate(-90 726.00 325.60)">0</text>
<line x1="713.6" y1="298.96" x2="716.50" y2="298.96" stroke="#888888" stroke-width="0.8"/>
<text x="726.00" y="298.96" font-size="9.2" text-anchor="middle" fill="#111" transform="rotate(-90 726.00 298.96)">0.2</text>
<line x1="713.6" y1="272.32" x2="716.50" y2="272.32" stroke="#888888" stroke-width="0.8"/>
<text x="726.00" y="272.32" font-size="9.2" text-anchor="middle" fill="#111" transform="rotate(-90 726.00 272.32)">0.4</text>
<line x1="713.6" y1="245.68" x2="716.50" y2="245.68" stroke="#888888" stroke-width="0.8"/>
<text x="726.00" y="245.68" font-size="9.2" text-anchor="middle" fill="#111" transform="rotate(-90 726.00 245.68)">0.6</text>
<line x1="713.6" y1="219.04" x2="716.50" y2="219.04" stroke="#888888" stroke-width="0.8"/>
<text x="726.00" y="219.04" font-size="9.2" text-anchor="middle" fill="#111" transform="rotate(-90 726.00 219.04)">0.8</text>
<line x1="713.6" y1="192.40" x2="716.50" y2="192.40" stroke="#888888" stroke-width="0.8"/>
<text x="726.00" y="192.40" font-size="9.2" text-anchor="middle" fill="#111" transform="rotate(-90 726.00 192.40)">1.0</text>
<text x="565.40" y="213.40" font-size="9" text-anchor="middle" fill="#111" transform="rotate(-90 565.40 213.40)">S</text>
<text x="565.40" y="251.50" font-size="9" text-anchor="middle" fill="#111" transform="rotate(-90 565.40 251.50)">D</text>
<text x="565.40" y="286.80" font-size="9" text-anchor="middle" fill="#111" transform="rotate(-90 565.40 286.80)">N</text>
<text x="565.40" y="309.80" font-size="9" text-anchor="middle" fill="#111" transform="rotate(-90 565.40 309.80)">W</text>
<text x="603.20" y="337.50" font-size="8.5" text-anchor="middle" fill="#111">1</text>
<circle cx="610.90" cy="334.1" r="3.6" fill="none" stroke="#222" stroke-width="0.8"/>
<text x="676.20" y="337.50" font-size="8.5" text-anchor="middle" fill="#111">2</text>
<path d="M684.35 329.9 L688.75 337.5 L679.95 337.5 Z" fill="#111"/>
<text x="642.20" y="350.60" font-size="11.8" text-anchor="middle" fill="#111">Group</text>
<text x="568.50" y="185.80" font-size="12" text-anchor="start" fill="#111">(h)</text>
</svg></body></html>
